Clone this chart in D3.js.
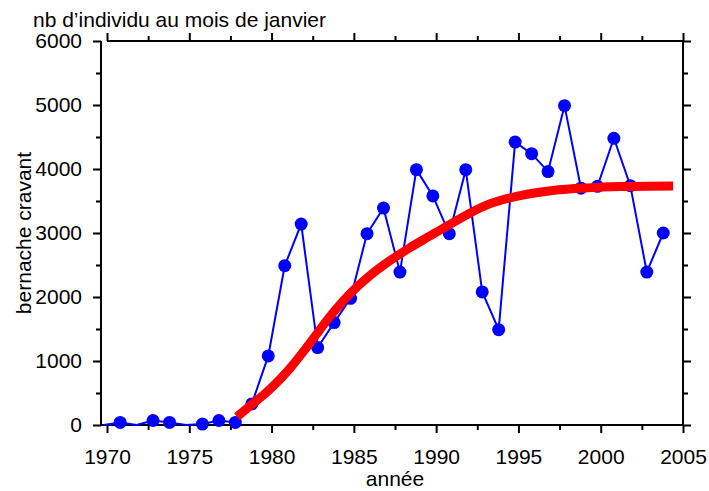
<!DOCTYPE html>
<html>
<head>
<meta charset="utf-8">
<script src="https://cdn.jsdelivr.net/npm/d3@7"></script>
<style>
  body { margin: 0; background: #fff; }
  text { font-family: "Liberation Sans", Arial, sans-serif; fill: #000; }
</style>
</head>
<body>
<svg id="chart" width="709" height="491"></svg>
<script>
// comptages de bernaches (janvier)
const years = [1970, 1971, 1972, 1973, 1974, 1975, 1976, 1977, 1978, 1979,
               1980, 1981, 1982, 1983, 1984, 1985, 1986, 1987, 1988, 1989,
               1990, 1991, 1992, 1993, 1994, 1995, 1996, 1997, 1998, 1999,
               2000, 2001, 2002, 2003, 2004];
const counts = [0, 40, 0, 70, 40, 0, 15, 70, 40, 330,
                1080, 2490, 3140, 1210, 1600, 1980, 2990, 3390, 2390, 3990,
                3580, 2990, 3990, 2080, 1490, 4420, 4240, 3960, 4990, 3700,
                3730, 4480, 3740, 2390, 3000];

// courbe ajustee (rouge)
const fitYears = [1977.9, 1978.7, 1979.9, 1981.1, 1982.3, 1983.5, 1984.8, 1986.0,
                  1987.2, 1988.4, 1989.6, 1990.6, 1993.1, 1995.1, 1997.1, 1999.2,
                  2001.2, 2004.4];
const fitValues = [130, 300, 560, 880, 1270, 1680, 2060, 2340,
                   2570, 2770, 2950, 3100, 3440, 3585, 3665, 3705,
                   3725, 3735];

const xMajor = [1970, 1975, 1980, 1985, 1990, 1995, 2000, 2005];
const xMinor = [1972.5, 1977.5, 1982.5, 1987.5, 1992.5, 1997.5, 2002.5];
const yMajor = [0, 1000, 2000, 3000, 4000, 5000, 6000];
const yMinor = [500, 1500, 2500, 3500, 4500, 5500];

// decalage des points par rapport aux graduations
const yearShift = -0.2;

const width = 709;
const height = 491;
const fontSize = 21;

const x = d3.scaleLinear().domain([1970, 2005]).range([107, 683]);
const y = d3.scaleLinear().domain([0, 6000]).range([425, 41]);
const axisX = x(1970) - 6; // l'axe vertical gauche est un peu avant 1970

const svg = d3.select("#chart");

// axes : graduations principales + secondaires
function ticks(axisFn, scale, vals, size, labels, pad, transform) {
  const g = svg.append("g")
    .attr("transform", transform)
    .call(axisFn(scale).tickValues(vals).tickSize(size).tickSizeOuter(0)
      .tickPadding(pad)
      .tickFormat(labels ? d3.format("d") : ""));
  g.select(".domain").remove();
  g.selectAll(".tick line").attr("stroke", "#000").attr("stroke-width", 2);
  g.selectAll("text").style("font-size", fontSize + "px").attr("fill", "#000");
  return g;
}

ticks(d3.axisBottom, x, xMajor, 8, true, 16, `translate(0,${y(0)})`);
ticks(d3.axisBottom, x, xMinor, 5, false, 0, `translate(0,${y(0)})`);
ticks(d3.axisTop, x, xMajor, 8, false, 0, `translate(0,${y(6000)})`);
ticks(d3.axisTop, x, xMinor, 5, false, 0, `translate(0,${y(6000)})`);
ticks(d3.axisLeft, y, yMajor, 8, true, 11, `translate(${axisX},0)`);
ticks(d3.axisLeft, y, yMinor, 5, false, 0, `translate(${axisX},0)`);
ticks(d3.axisRight, y, yMajor, 8, false, 0, `translate(${x(2005)},0)`);
ticks(d3.axisRight, y, yMinor, 5, false, 0, `translate(${x(2005)},0)`);

// cadre
const frame = svg.append("g").attr("stroke", "#000").attr("stroke-width", 2);
frame.append("line").attr("x1", axisX).attr("x2", x(2005)).attr("y1", y(0)).attr("y2", y(0));
frame.append("line").attr("x1", x(1970)).attr("x2", x(2005)).attr("y1", y(6000)).attr("y2", y(6000));
frame.append("line").attr("x1", axisX).attr("x2", axisX).attr("y1", y(0)).attr("y2", y(6000));
frame.append("line").attr("x1", x(2005)).attr("x2", x(2005)).attr("y1", y(0)).attr("y2", y(6000));

// serie observee
const obs = years.map((yr, i) => ({ year: yr + yearShift, count: counts[i] }));

svg.append("path")
  .datum(obs)
  .attr("fill", "none")
  .attr("stroke", "#0000ff")
  .attr("stroke-width", 2)
  .attr("d", d3.line().x(d => x(d.year)).y(d => y(d.count)));

svg.selectAll("circle.obs")
  .data(obs.filter(d => d.count > 0))
  .join("circle")
    .attr("class", "obs")
    .attr("cx", d => x(d.year))
    .attr("cy", d => y(d.count))
    .attr("r", 6.5)
    .attr("fill", "#0000ff");

// courbe ajustee
const fit = fitYears.map((yr, i) => ({ year: yr, v: fitValues[i] }));
svg.append("path")
  .datum(fit)
  .attr("fill", "none")
  .attr("stroke", "#ff0000")
  .attr("stroke-width", 9)
  .attr("d", d3.line().curve(d3.curveMonotoneX).x(d => x(d.year)).y(d => y(d.v)));

// titres
svg.append("text")
  .attr("x", 33).attr("y", 27)
  .style("font-size", fontSize + "px")
  .text("nb d\u2019individu au mois de janvier");

svg.append("text")
  .attr("x", (x(1970) + x(2005)) / 2).attr("y", 486)
  .attr("text-anchor", "middle")
  .style("font-size", fontSize + "px")
  .text("ann\u00e9e");

svg.append("text")
  .attr("transform", `translate(31,${(y(0) + y(6000)) / 2}) rotate(-90)`)
  .attr("text-anchor", "middle")
  .style("font-size", fontSize + "px")
  .text("bernache cravant");
</script>
</body>
</html>
